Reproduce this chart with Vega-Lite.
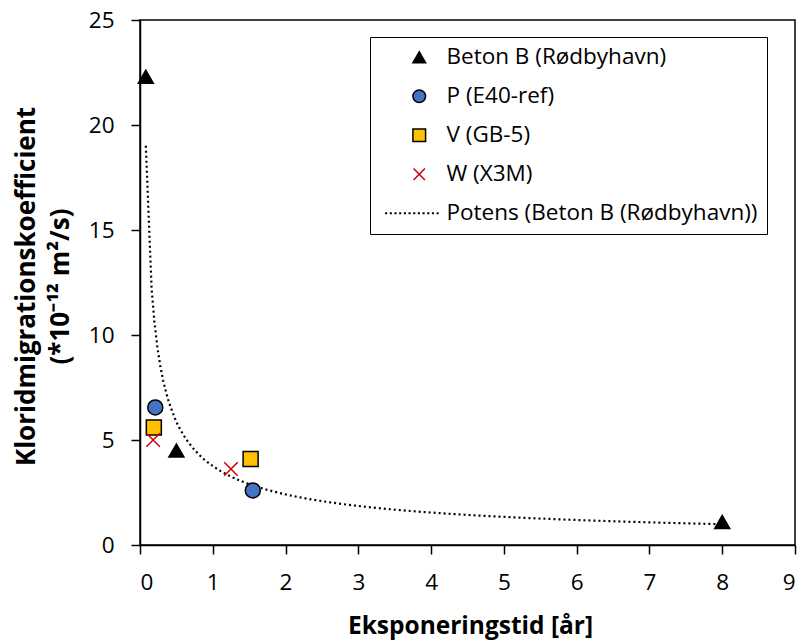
{
  "$schema": "https://vega.github.io/schema/vega-lite/v6.json",
  "width": 655,
  "height": 525,
  "autosize": "none",
  "padding": {"left": 140, "top": 20, "right": 10, "bottom": 97},
  "background": "white",
  "config": {
    "font": "Open Sans",
    "view": {"stroke": "black", "strokeWidth": 1.5},
    "axis": {
      "grid": false,
      "domainColor": "black",
      "domainWidth": 1.5,
      "tickColor": "black",
      "tickWidth": 1.5,
      "tickSize": 9,
      "labelFont": "Open Sans",
      "labelFontSize": 22.5,
      "labelColor": "black",
      "labelPadding": 17,
      "titleFont": "Open Sans",
      "titleFontSize": 24.5,
      "titleFontWeight": "bold",
      "titleColor": "black"
    },
    "legend": {
      "orient": "none",
      "legendX": 230,
      "legendY": 17,
      "strokeColor": "black",
      "padding": 9,
      "symbolOffset": 29,
      "labelOffset": 16,
      "rowPadding": 16,
      "symbolSize": 160,
      "symbolOpacity": 1,
      "symbolStrokeWidth": 1.5,
      "labelLimit": 0,
      "labelFont": "Open Sans",
      "labelFontSize": 22.5,
      "labelColor": "black"
    }
  },
  "data": {
    "values": [
      {"serie": "Beton B (Rødbyhavn)", "t": 0.08, "d": 22.3},
      {"serie": "Beton B (Rødbyhavn)", "t": 0.5, "d": 4.5},
      {"serie": "Beton B (Rødbyhavn)", "t": 8.0, "d": 1.1},
      {"serie": "P (E40-ref)", "t": 0.21, "d": 6.55},
      {"serie": "P (E40-ref)", "t": 1.55, "d": 2.6},
      {"serie": "V (GB-5)", "t": 0.19, "d": 5.6},
      {"serie": "V (GB-5)", "t": 1.52, "d": 4.1},
      {"serie": "W (X3M)", "t": 0.18, "d": 5.0},
      {"serie": "W (X3M)", "t": 1.25, "d": 3.62}
    ]
  },
  "encoding": {
    "x": {
      "field": "t",
      "type": "quantitative",
      "scale": {"domain": [0, 9], "nice": false},
      "axis": {
        "values": [0, 1, 2, 3, 4, 5, 6, 7, 8, 9],
        "title": "Eksponeringstid [år]",
        "titleBaseline": "alphabetic",
        "titleY": 88,
        "titleX": 330
      }
    },
    "y": {
      "field": "d",
      "type": "quantitative",
      "scale": {"domain": [0, 25], "nice": false},
      "axis": {
        "values": [0, 5, 10, 15, 20, 25],
        "title": ["Kloridmigrationskoefficient", "(*10⁻¹² m²/s)"],
        "titleFontSize": 26,
        "titleBaseline": "middle",
        "titleLineHeight": 34,
        "titleX": -114,
        "titleY": 266,
        "titleAngle": -90
      }
    }
  },
  "layer": [
    {
      "transform": [
        {"filter": "datum.serie === 'Beton B (Rødbyhavn)'"},
        {"regression": "d", "on": "t", "method": "pow"}
      ],
      "mark": {"type": "line", "color": "black", "strokeWidth": 2.2, "strokeDash": [2, 3]}
    },
    {
      "mark": {"type": "point", "filled": true, "opacity": 1, "size": 225, "strokeWidth": 1.5},
      "encoding": {
        "shape": {
          "field": "serie",
          "type": "nominal",
          "scale": {
            "domain": ["Beton B (Rødbyhavn)", "P (E40-ref)", "V (GB-5)", "W (X3M)", "Potens (Beton B (Rødbyhavn))"],
            "range": [
              "triangle-up",
              "circle",
              "square",
              "M-0.9,-0.9L0.9,0.9M-0.9,0.9L0.9,-0.9",
              "M-5.4,-0.17h0.33v0.34h-0.33zM-4.66,-0.17h0.33v0.34h-0.33zM-3.92,-0.17h0.33v0.34h-0.33zM-3.18,-0.17h0.33v0.34h-0.33zM-2.44,-0.17h0.33v0.34h-0.33zM-1.7,-0.17h0.33v0.34h-0.33zM-0.96,-0.17h0.33v0.34h-0.33zM-0.22,-0.17h0.33v0.34h-0.33zM0.52,-0.17h0.33v0.34h-0.33zM1.26,-0.17h0.33v0.34h-0.33zM2.0,-0.17h0.33v0.34h-0.33zM2.74,-0.17h0.33v0.34h-0.33z"
            ]
          },
          "legend": {"title": null}
        },
        "fill": {
          "field": "serie",
          "type": "nominal",
          "scale": {
            "domain": ["Beton B (Rødbyhavn)", "P (E40-ref)", "V (GB-5)", "W (X3M)", "Potens (Beton B (Rødbyhavn))"],
            "range": ["black", "#4472C4", "#FFC000", "transparent", "black"]
          },
          "legend": {"title": null}
        },
        "stroke": {
          "field": "serie",
          "type": "nominal",
          "scale": {
            "domain": ["Beton B (Rødbyhavn)", "P (E40-ref)", "V (GB-5)", "W (X3M)", "Potens (Beton B (Rødbyhavn))"],
            "range": ["black", "black", "black", "#CC0000", "transparent"]
          },
          "legend": {"title": null}
        }
      }
    }
  ]
}
